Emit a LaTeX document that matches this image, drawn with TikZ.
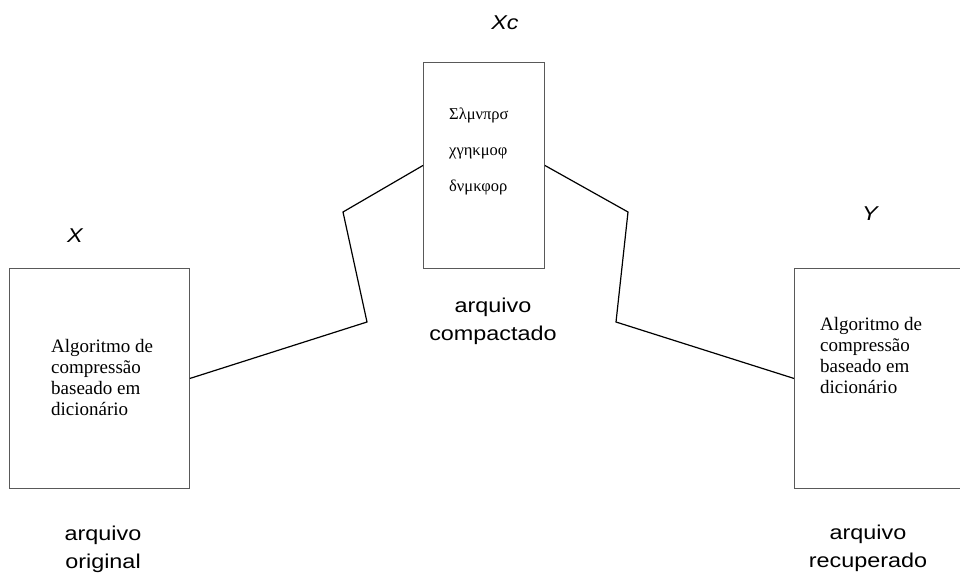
\documentclass[tikz,border=0pt]{standalone}
\usepackage{fontspec}
\setmainfont{Liberation Serif}
\newfontfamily\rotfont[FakeStretch=1.17]{Liberation Sans}
\usetikzlibrary{calc}

\tikzset{
  caixa/.style={draw=black!65, line width=0.9pt, minimum width=180pt, minimum height=220pt, inner sep=0pt, anchor=north west},
  texto/.style={align=left, inner sep=0pt, anchor=north west, font=\fontsize{19}{21}\selectfont},
  rotulo/.style={align=center, inner sep=0pt, anchor=base, font=\rotfont\fontsize{20}{27.5}\selectfont},
  ligacao/.style={line width=1.2pt},
}

\begin{document}
\begin{tikzpicture}[x=1pt,y=-1pt]
  \useasboundingbox (0,0) rectangle (960,573);

  % caixas
  \node[caixa] (orig) at (9,268) {};
  \node[caixa, minimum width=121pt, minimum height=206pt] (comp) at (423,62) {};
  \node[caixa, minimum width=175pt] (rec) at (794,268) {};

  \node[texto] (origtxt) at (51,339) {Algoritmo de\\compressão\\baseado em\\dicionário};
  \node[texto] (rectxt) at (820,317) {Algoritmo de\\compressão\\baseado em\\dicionário};
  \node[texto, font=\fontsize{16.5}{36}\selectfont] (grego) at (449,108) {Σλμνπρσ\\χγηκμοφ\\δνμκφορ};

  % rotulos
  \node[rotulo] (lx) at (75,242) {\itshape X};
  \node[rotulo] (lxc) at (505,29) {\itshape Xc};
  \node[rotulo] (ly) at (870,220) {\itshape Y};
  \node[rotulo] (lorig) at (103,568) {arquivo\\original};
  \node[rotulo] (lcomp) at (493,340) {arquivo\\compactado};
  \node[rotulo] (lrec) at (868,567) {arquivo\\recuperado};

  % ligacoes
  \coordinate (a1) at (367,322);
  \coordinate (a2) at (343,212);
  \coordinate (b1) at (628,212);
  \coordinate (b2) at (616,322);
  \draw[ligacao] (orig.east) -- (a1) -- (a2) -- (comp.west);
  \draw[ligacao] (comp.east) -- (b1) -- (b2) -- (rec.west);
\end{tikzpicture}
\end{document}
